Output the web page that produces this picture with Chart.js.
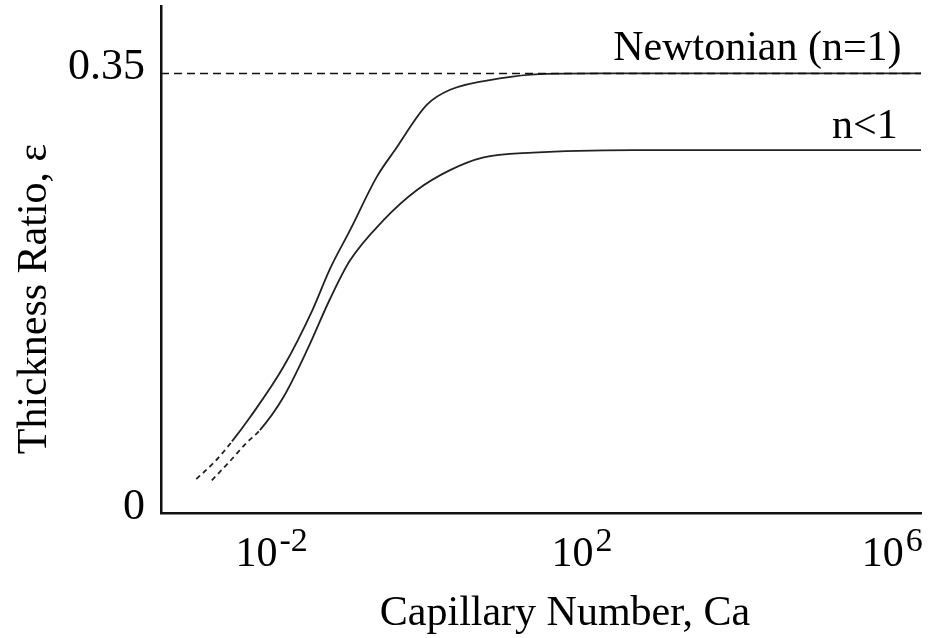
<!DOCTYPE html>
<html>
<head>
<meta charset="utf-8">
<title>Thickness Ratio vs Capillary Number</title>
<script src="https://cdn.jsdelivr.net/npm/chart.js@4.4.1/dist/chart.umd.min.js"></script>
<style>
  body { margin: 0; background: #fff; }
</style>
</head>
<body>
<canvas id="myChart" width="934" height="638"></canvas>
<script>
// log10(Ca) along each curve and the film thickness ratio there
let newtonianLogCa = [-2.97, -2.73, -2.51, -2.28, -1.85, -1.47, -1.25, -0.99, -0.64, -0.41, 0.0, 0.30, 0.94, 1.46, 2.23, 6.37];
let newtonianEps = [0.027, 0.041, 0.057, 0.076, 0.116, 0.162, 0.194, 0.225, 0.268, 0.289, 0.325, 0.337, 0.346, 0.3495, 0.35, 0.35];
let shearThinLogCa = [-2.77, -2.54, -2.32, -2.15, -1.85, -1.54, -1.25, -0.99, -0.56, -0.13, 0.30, 0.72, 1.37, 2.66, 6.37];
let shearThinEps = [0.026, 0.041, 0.056, 0.066, 0.092, 0.130, 0.170, 0.201, 0.233, 0.257, 0.273, 0.283, 0.287, 0.289, 0.289];

// extrapolated (dashed) part at the low-Ca end: points before this index
let newtonianDashedTo = 2;
let shearThinDashedTo = 3;

let newtonianLimit = 0.35;
let logCaRange = [-3.425, 6.37];
let xTickExps = [-2, 2, 6];
let yTicks = [0, 0.35];
let yTickLabels = ["0", "0.35"];

const serif = "'Liberation Serif', 'Times New Roman', serif";

function points(xs, ys) {
    return xs.map((x, i) => ({ x: x, y: ys[i] }));
}

function dashedStart(upTo) {
    return (ctx) => (ctx.p0DataIndex < upTo ? [5, 4] : undefined);
}

// powers of ten under the x axis, axis titles and curve labels
const figureText = {
    id: "figureText",
    afterDraw(chart) {
        const ctx = chart.ctx;
        const xs = chart.scales.x;
        const ys = chart.scales.y;
        ctx.save();
        ctx.fillStyle = "#000";
        ctx.textBaseline = "alphabetic";

        xs.ticks.forEach((t) => {
            const base = "10";
            const sup = String(t.value);
            ctx.font = "42px " + serif;
            const wb = ctx.measureText(base).width + 2;
            ctx.font = "34px " + serif;
            const ws = ctx.measureText(sup).width;
            const left = xs.getPixelForValue(t.value) - (wb + ws) / 2;
            ctx.textAlign = "left";
            ctx.font = "42px " + serif;
            ctx.fillText(base, left, xs.top + 53);
            ctx.font = "34px " + serif;
            ctx.fillText(sup, left + wb, xs.top + 38);
        });

        ctx.font = "42px " + serif;
        ctx.textAlign = "center";
        ctx.fillText("Capillary Number, Ca", 565, xs.top + 112);

        ctx.save();
        ctx.translate(46, 299);
        ctx.rotate(-Math.PI / 2);
        ctx.fillText("Thickness Ratio, \u03b5", 0, 0);
        ctx.restore();

        ctx.textAlign = "right";
        ctx.fillText("Newtonian (n=1)", xs.getPixelForValue(6.12), ys.getPixelForValue(newtonianLimit) - 13);
        ctx.fillText("n<1", xs.getPixelForValue(6.07), ys.getPixelForValue(shearThinEps[shearThinEps.length - 1]) - 12);
        ctx.restore();
    },
};

let myChart = document.getElementById("myChart").getContext("2d");

let filmChart = new Chart(myChart, {
    type: "line",
    data: {
        datasets: [
            {
                label: "Newtonian limit",
                data: points(logCaRange, [newtonianLimit, newtonianLimit]),
                borderColor: "#111",
                borderWidth: 1.5,
                borderDash: [8, 5],
                pointRadius: 0,
            },
            {
                label: "Newtonian (n=1)",
                data: points(newtonianLogCa, newtonianEps),
                borderColor: "#222",
                borderWidth: 1.8,
                pointRadius: 0,
                cubicInterpolationMode: "monotone",
                segment: { borderDash: dashedStart(newtonianDashedTo) },
            },
            {
                label: "n<1",
                data: points(shearThinLogCa, shearThinEps),
                borderColor: "#222",
                borderWidth: 1.8,
                pointRadius: 0,
                cubicInterpolationMode: "monotone",
                segment: { borderDash: dashedStart(shearThinDashedTo) },
            },
        ],
    },
    options: {
        responsive: false,
        animation: false,
        layout: { padding: { top: 6, right: 13, left: 0, bottom: 0 } },
        plugins: {
            legend: { display: false },
            tooltip: { enabled: false },
        },
        scales: {
            x: {
                type: "linear",
                min: logCaRange[0],
                max: logCaRange[1],
                grid: { display: false },
                border: { color: "#111", width: 2.5 },
                ticks: { display: false },
                afterBuildTicks: (scale) => {
                    scale.ticks = xTickExps.map((v) => ({ value: v }));
                },
                afterFit: (scale) => {
                    scale.height = 125;
                    scale.paddingLeft = 0;
                    scale.paddingRight = 0;
                },
            },
            y: {
                type: "linear",
                min: 0,
                max: 0.4037,
                grid: { display: false },
                border: { color: "#111", width: 2.5 },
                ticks: {
                    color: "#000",
                    padding: 8,
                    labelOffset: -6,
                    font: { size: 44, family: serif },
                    callback: (value) => yTickLabels[yTicks.indexOf(value)],
                },
                afterBuildTicks: (scale) => {
                    scale.ticks = yTicks.map((v) => ({ value: v }));
                },
                afterFit: (scale) => {
                    scale.width = 161;
                    scale.paddingTop = 0;
                    scale.paddingBottom = 0;
                },
            },
        },
    },
    plugins: [figureText],
});
</script>
</body>
</html>
